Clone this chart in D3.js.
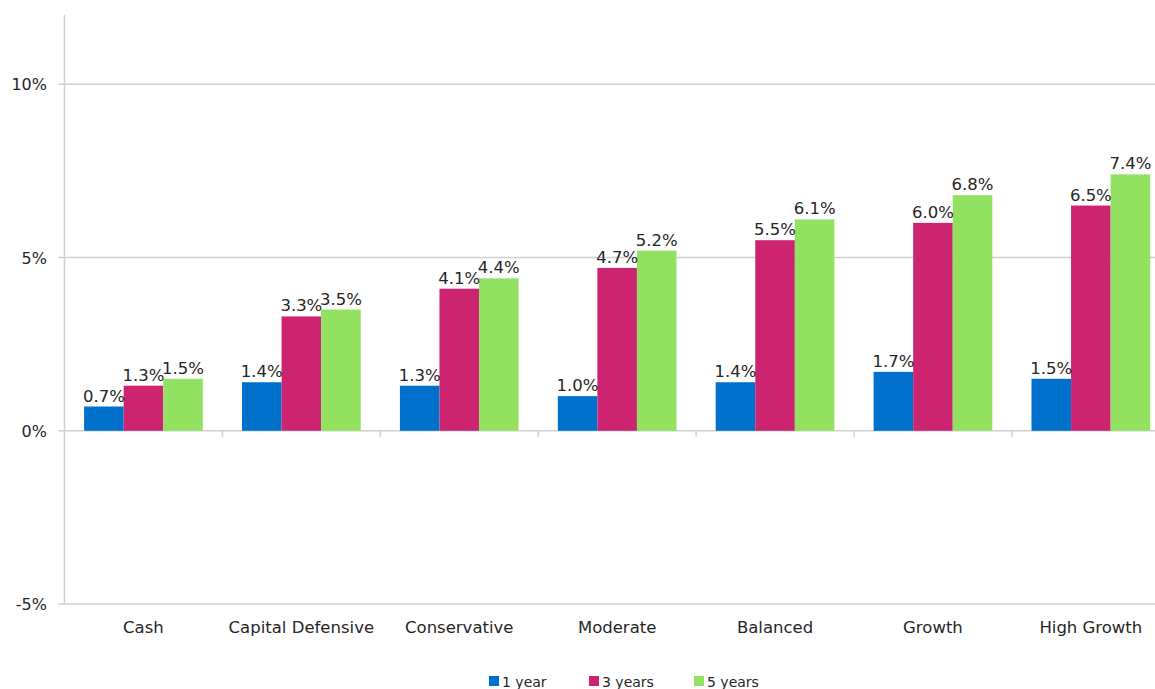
<!DOCTYPE html>
<html>
<head>
<meta charset="utf-8">
<script src="https://cdn.jsdelivr.net/npm/d3@7"></script>
<style>
  body { margin: 0; background: #fff; }
  text { font-family: "DejaVu Sans", sans-serif; fill: #262626; }
</style>
</head>
<body>
<svg id="chart"></svg>
<script>
// chart data
var categories = ["Cash", "Capital Defensive", "Conservative", "Moderate", "Balanced", "Growth", "High Growth"];
var seriesNames = ["1 year", "3 years", "5 years"];
var oneYear = [0.7, 1.4, 1.3, 1.0, 1.4, 1.7, 1.5];
var threeYears = [1.3, 3.3, 4.1, 4.7, 5.5, 6.0, 6.5];
var fiveYears = [1.5, 3.5, 4.4, 5.2, 6.1, 6.8, 7.4];
var yTicks = [-5, 0, 5, 10];
var colors = ["#0070cd", "#cc2470", "#93e160"];

var svgWidth = 1155;
var svgHeight = 689;
var svg = d3.select("#chart")
    .attr("width", svgWidth)
    .attr("height", svgHeight);

var left = 64.5, bandW = 157.9;
var x0 = d3.scaleBand()
    .domain(categories)
    .range([left, left + bandW * categories.length]);
var pad = 19.6;
var x1 = d3.scaleBand()
    .domain(seriesNames)
    .range([pad, bandW - pad]);
var y = d3.scaleLinear()
    .domain([-5, 12])
    .range([604, 15]);

var allSeries = [oneYear, threeYears, fiveYears];
var rows = categories.map(function(c, i) {
  return { cat: c, vals: allSeries.map(function(s, k) { return { name: seriesNames[k], v: s[i], k: k }; }) };
});

// gridlines
svg.selectAll(".grid")
    .data(yTicks)
    .enter()
    .append("line")
    .attr("x1", left - 6)
    .attr("x2", svgWidth)
    .attr("y1", function(d) { return y(d); })
    .attr("y2", function(d) { return y(d); })
    .attr("stroke", "#d0d0d0")
    .attr("stroke-width", 1.5);

// y axis line
svg.append("line")
    .attr("x1", left).attr("x2", left)
    .attr("y1", y(12)).attr("y2", y(-5))
    .attr("stroke", "#d0d0d0")
    .attr("stroke-width", 1.5);

// y labels
svg.selectAll(".ylab")
    .data(yTicks)
    .enter()
    .append("text")
    .attr("x", 47)
    .attr("y", function(d) { return y(d) + 6; })
    .attr("text-anchor", "end")
    .style("font-size", "16px")
    .text(function(d) { return d + "%"; });

// x ticks on zero line
svg.selectAll(".xtick")
    .data(categories.slice(1))
    .enter()
    .append("line")
    .attr("x1", function(d) { return x0(d); })
    .attr("x2", function(d) { return x0(d); })
    .attr("y1", y(0))
    .attr("y2", y(0) + 6)
    .attr("stroke", "#d0d0d0")
    .attr("stroke-width", 1.5);

// bars
var groups = svg.selectAll(".grp")
    .data(rows)
    .enter()
    .append("g")
    .attr("transform", function(d) { return "translate(" + x0(d.cat) + ",0)"; });

groups.selectAll("rect")
    .data(function(d) { return d.vals; })
    .enter()
    .append("rect")
    .attr("x", function(d) { return x1(d.name); })
    .attr("width", x1.bandwidth())
    .attr("y", function(d) { return y(d.v); })
    .attr("height", function(d) { return y(0) - y(d.v); })
    .attr("fill", function(d) { return colors[d.k]; });

groups.selectAll(".lbl")
    .data(function(d) { return d.vals; })
    .enter()
    .append("text")
    .attr("x", function(d) { return x1(d.name) + x1.bandwidth() / 2; })
    .attr("y", function(d) { return y(d.v) - 5; })
    .attr("text-anchor", "middle")
    .style("font-size", "16.5px")
    .text(function(d) { return d.v.toFixed(1) + "%"; });

// category labels
svg.selectAll(".cat")
    .data(categories)
    .enter()
    .append("text")
    .attr("x", function(d) { return x0(d) + bandW / 2; })
    .attr("y", 633)
    .attr("text-anchor", "middle")
    .style("font-size", "16.5px")
    .text(function(d) { return d; });

// legend
var legendX = [489, 589, 694];
var legend = svg.selectAll(".leg")
    .data(seriesNames)
    .enter()
    .append("g")
    .attr("transform", function(d, i) { return "translate(" + legendX[i] + ",676)"; });
legend.append("rect")
    .attr("width", 10).attr("height", 10)
    .attr("fill", function(d, i) { return colors[i]; });
legend.append("text")
    .attr("x", 13)
    .attr("y", 10.5)
    .style("font-size", "14px")
    .text(function(d) { return d; });
</script>
</body>
</html>
